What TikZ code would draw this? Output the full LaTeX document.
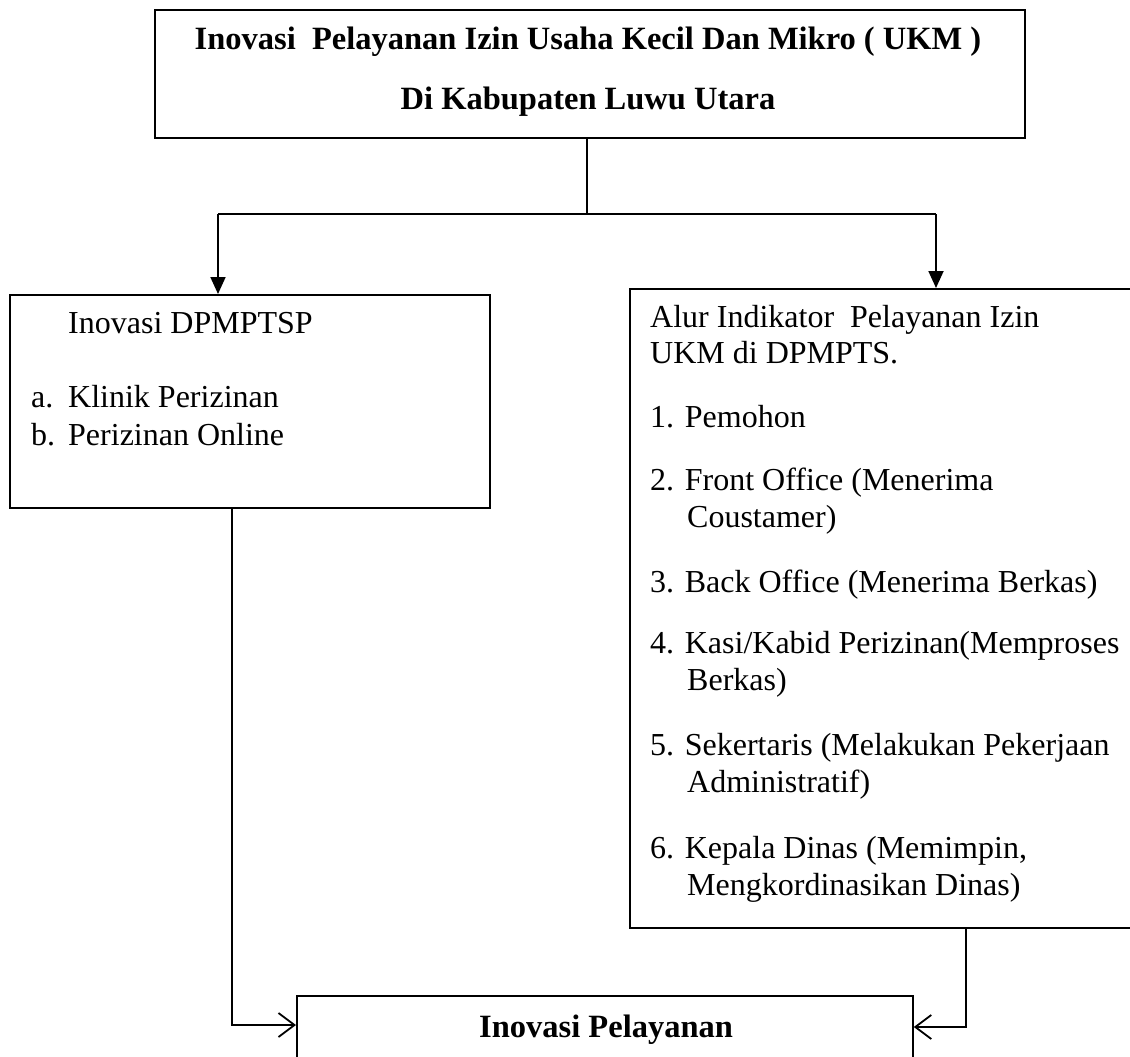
\documentclass[tikz,border=0pt]{standalone}
\usepackage{fontspec}
\setmainfont{Liberation Serif}
\usetikzlibrary{arrows.meta}
\newcommand\fsn{\fontsize{32}{38}\selectfont}
\newcommand\fsb{\fontsize{32.5}{38}\selectfont\bfseries}
\tikzset{
  boxnode/.style={draw, line width=1.8pt, inner sep=0pt, anchor=north west},
  txt/.style={inner sep=0pt, anchor=base west, font=\fsn},
  ttl/.style={inner sep=0pt, anchor=base, font=\fsb},
  conn/.style={line width=1.8pt},
  fillhead/.style={-{Triangle[length=17pt,width=15pt]}},
  openhead/.style={-{Straight Barb[length=16pt,width=24pt,line width=1.8pt]}}
}
\begin{document}
\begin{tikzpicture}[x=1pt,y=-1pt]
\useasboundingbox (0,0) rectangle (1130,1057);
\clip (0,0) rectangle (1130,1057);
% boxes
\node[boxnode, minimum width=870pt, minimum height=128pt] (top) at (154,9) {};
\node[boxnode, minimum width=480pt, minimum height=213pt] (left) at (9,294) {};
\node[boxnode, minimum width=520pt, minimum height=639pt] (right) at (629,288) {};
\node[boxnode, minimum width=616pt, minimum height=120pt] (bottom) at (296,995) {};
% title
\node[ttl] (t1) at (588,50) {Inovasi~~Pelayanan Izin Usaha Kecil Dan Mikro ( UKM )};
\node[ttl] (t2) at (588,110) {Di Kabupaten Luwu Utara};
% left text
\node[txt] (l1) at (68,333) {Inovasi DPMPTSP};
\node[txt] (l2a) at (31,407) {a.};
\node[txt] (l2) at (68,407) {Klinik Perizinan};
\node[txt] (l3a) at (31,445) {b.};
\node[txt] (l3) at (68,445) {Perizinan Online};
% right text
\node[txt] (r1) at (650,327) {Alur Indikator~~Pelayanan Izin};
\node[txt] (r2) at (650,363) {UKM di DPMPTS.};
\node[txt] (r3) at (650,427) {1. Pemohon};
\node[txt] (r4) at (650,490) {2. Front Office (Menerima};
\node[txt] (r5) at (687,527) {Coustamer)};
\node[txt] (r6) at (650,592) {3. Back Office (Menerima Berkas)};
\node[txt] (r7) at (650,653) {4. Kasi/Kabid Perizinan(Memproses};
\node[txt] (r8) at (687,690) {Berkas)};
\node[txt] (r9) at (650,755) {5. Sekertaris (Melakukan Pekerjaan};
\node[txt] (r10) at (687,792) {Administratif)};
\node[txt] (r11) at (650,858) {6. Kepala Dinas (Memimpin,};
\node[txt] (r12) at (687,895) {Mengkordinasikan Dinas)};
% bottom text
\node[txt, font=\fsb] (b1) at (479,1037) {Inovasi Pelayanan};
% connectors
\coordinate (tj) at (587,214);
\coordinate (hl) at (218,214);
\coordinate (hr) at (936,214);
\draw[conn] (tj |- top.south) -- (tj);
\draw[conn] (hl) -- (hr);
\draw[conn, fillhead] (hl) -- (hl |- left.north);
\draw[conn, fillhead] (hr) -- (hr |- right.north);
\coordinate (lj) at (232,1025);
\coordinate (rj) at (966,1027);
\draw[conn, openhead] (lj |- left.south) -- (lj) -- (lj -| bottom.west);
\draw[conn, openhead] (rj |- right.south) -- (rj) -- (rj -| bottom.east);
\end{tikzpicture}
\end{document}
